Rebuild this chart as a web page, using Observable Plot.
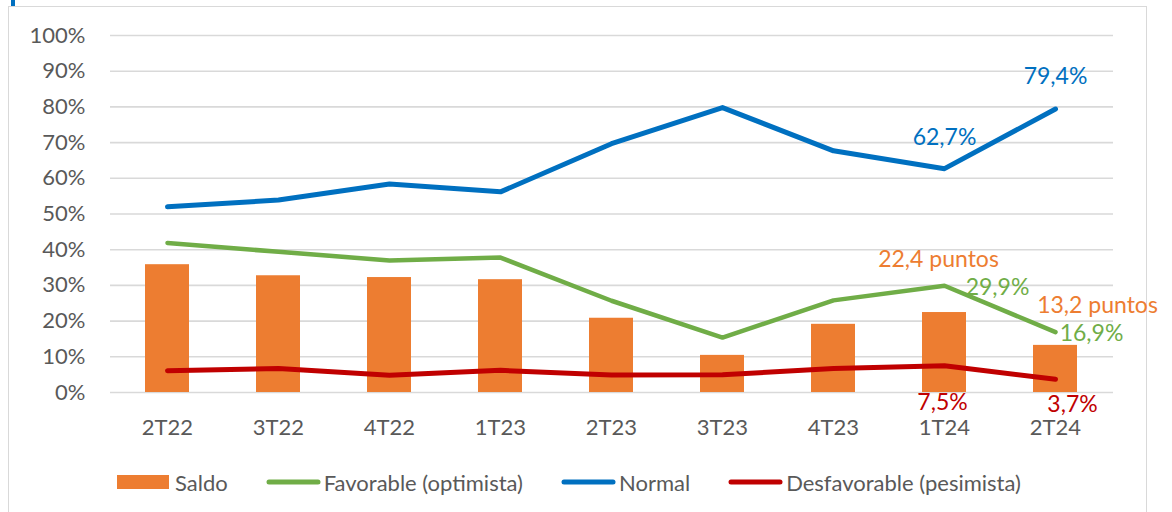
<!DOCTYPE html>
<html><head><meta charset="utf-8">
<script src="https://cdn.jsdelivr.net/npm/d3@7"></script>
<script src="https://cdn.jsdelivr.net/npm/@observablehq/plot@0.6"></script>
<style>
html,body{margin:0;padding:0;background:#fff;width:1172px;height:512px;overflow:hidden;font-family:Lato,sans-serif}
#frame{position:absolute;left:8px;top:6px;width:1139px;height:530px;border:1.5px solid #d9d9d9;box-sizing:border-box}
#mark{position:absolute;left:11px;top:0;width:4px;height:6px;background:#0070c0}
#chart{position:absolute;left:0;top:0}
#legend{position:absolute;top:468px;left:117px;height:28px;font-size:22px;color:#595959;display:flex;align-items:center;gap:38px}
.item{display:flex;align-items:center;gap:3px;white-space:nowrap}
</style>
</head><body>
<div id="frame"></div>
<div id="mark"></div>
<div id="chart"></div>
<div id="legend"></div>
<script>
const categories = ["2T22","3T22","4T22","1T23","2T23","3T23","4T23","1T24","2T24"];
const saldo        = [35.8, 32.7, 32.2, 31.6, 20.8, 10.4, 19.1, 22.4, 13.2];
const favorable    = [41.9, 39.4, 37.0, 37.8, 25.7, 15.4, 25.8, 29.9, 16.9];
const normal       = [52.0, 53.9, 58.4, 56.2, 69.7, 79.8, 67.7, 62.7, 79.4];
const desfavorable = [ 6.1,  6.7,  4.8,  6.2,  4.9,  5.0,  6.7,  7.5,  3.7];
const yTicks = [0,10,20,30,40,50,60,70,80,90,100];
const seriesNames = ["Saldo","Favorable (optimista)","Normal","Desfavorable (pesimista)"];
const colors = {saldo:"#ED7D31", favorable:"#70AD47", normal:"#0070C0", desfavorable:"#C00000"};

const rows = categories.map((c,i)=>({c, saldo:saldo[i], favorable:favorable[i], normal:normal[i], desfavorable:desfavorable[i]}));
const fmt = v => v.toFixed(1).replace(".", ",");
const at = cat => rows.filter(r => r.c === cat);
const lbl = (series, cat, suffix, dx, dy) => Plot.text(at(cat), {
  x:"c", y:series, text: r => fmt(r[series]) + suffix, fill: colors[series], dx, dy,
  fontSize: 23, textAnchor: "middle", lineAnchor: "middle"
});

const chart = Plot.plot({
  width: 1172, height: 450,
  marginLeft: 110, marginRight: 59, marginTop: 35, marginBottom: 58,
  style: {fontFamily: "Lato, sans-serif", fontSize: "22px", color: "#595959", background: "transparent", overflow: "visible"},
  x: {domain: categories, paddingInner: 0.6, paddingOuter: 0.3, label: null, tickSize: 0, tickPadding: 27},
  y: {domain: [0,100], ticks: yTicks, tickFormat: d => d + "%", label: null, tickSize: 0, tickPadding: 25},
  marks: [
    Plot.ruleY(yTicks, {stroke: "#d9d9d9", strokeWidth: 1.6}),
    Plot.barY(rows, {x: "c", y: "saldo", fill: colors.saldo}),
    Plot.line(rows, {x: "c", y: "favorable", stroke: colors.favorable, strokeWidth: 4.5, strokeLinecap: "round", strokeLinejoin: "round"}),
    Plot.line(rows, {x: "c", y: "normal", stroke: colors.normal, strokeWidth: 5, strokeLinecap: "round", strokeLinejoin: "round"}),
    Plot.line(rows, {x: "c", y: "desfavorable", stroke: colors.desfavorable, strokeWidth: 5, strokeLinecap: "round", strokeLinejoin: "round"}),
    lbl("normal", "2T24", "%", 0, -32),
    lbl("normal", "1T24", "%", 0, -31),
    lbl("saldo", "1T24", " puntos", -6, -53),
    lbl("favorable", "1T24", "%", 53, 2),
    lbl("saldo", "2T24", " puntos", 42, -40),
    lbl("favorable", "2T24", "%", 36, 1),
    lbl("desfavorable", "1T24", "%", -2, 37),
    lbl("desfavorable", "2T24", "%", 17, 25)
  ]
});
document.getElementById("chart").appendChild(chart);

const legend = d3.select("#legend");
const keys = ["saldo","favorable","normal","desfavorable"];
keys.forEach((k,i) => {
  const item = legend.append("div").attr("class","item");
  const svg = item.append("svg").attr("width", 55).attr("height", 16);
  if (k === "saldo") svg.append("rect").attr("x",0).attr("y",1).attr("width",52).attr("height",14).attr("fill",colors[k]);
  else svg.append("line").attr("x1",3).attr("x2",52).attr("y1",8).attr("y2",8).attr("stroke",colors[k]).attr("stroke-width",5).attr("stroke-linecap","round");
  item.append("span").text(seriesNames[i]);
});
</script>
</body></html>
